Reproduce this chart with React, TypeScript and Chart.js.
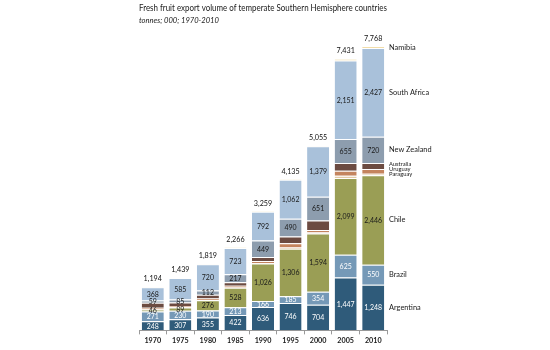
import React, { useEffect, useRef } from "react";
import { Chart, registerables } from "chart.js";

Chart.register(...registerables);

const years = ["1970", "1975", "1980", "1985", "1990", "1995", "2000", "2005", "2010"];
const argentina = [248, 307, 355, 422, 636, 746, 704, 1447, 1248];
const brazil = [271, 230, 190, 213, 166, 185, 354, 625, 550];
const chile = [46, 89, 276, 528, 1026, 1306, 1594, 2099, 2446];
const paraguay = [15, 10, 10, 12, 15, 30, 25, 60, 45];
const uruguay = [40, 30, 40, 45, 55, 120, 70, 140, 125];
const australia = [135, 95, 106, 96, 110, 180, 260, 210, 165];
const newZealand = [59, 85, 112, 217, 449, 490, 651, 655, 720];
const southAfrica = [368, 585, 720, 723, 792, 1062, 1379, 2151, 2427];
const namibia = [12, 8, 10, 10, 10, 16, 18, 44, 42];

const seriesNames = ["Argentina", "Brazil", "Chile", "Paraguay", "Uruguay", "Australia", "New Zealand", "South Africa", "Namibia"];
const seriesData = [argentina, brazil, chile, paraguay, uruguay, australia, newZealand, southAfrica, namibia];
const seriesColors = ["#2f5b7a", "#7599b7", "#9a9e55", "#e2c9a6", "#c4845e", "#6c4b41", "#8d9dae", "#a9c1da", "#ecd28e"];
const labelled = ["Argentina", "Brazil", "Chile", "New Zealand", "South Africa"];
const whiteText = ["Argentina", "Brazil"];
const smallNames = ["Paraguay", "Uruguay", "Australia"];

const FONT = "Lato, 'Open Sans', sans-serif";
const fmt = (v: number) => v.toLocaleString("en-US");

const labelPlugin = {
  id: "labels",
  afterDatasetsDraw(chart: any) {
    const ctx = chart.ctx;
    const n = chart.data.labels.length;
    ctx.save();
    ctx.textAlign = "center";
    ctx.textBaseline = "middle";
    ctx.font = `7px ${FONT}`;
    chart.data.datasets.forEach((ds: any, di: number) => {
      if (!labelled.includes(ds.label)) return;
      const meta = chart.getDatasetMeta(di);
      meta.data.forEach((bar: any, i: number) => {
        const y = (bar.y + bar.base) / 2;
        ctx.fillStyle = whiteText.includes(ds.label) ? "#ffffff" : "#1a1a1a";
        ctx.fillText(fmt(ds.data[i]), bar.x, y + 0.5);
      });
    });
    const lastMeta = chart.getDatasetMeta(chart.data.datasets.length - 1);
    ctx.font = `7.2px ${FONT}`;
    for (let i = 0; i < n; i++) {
      const total = chart.data.datasets.reduce((s: number, d: any) => s + d.data[i], 0);
      const bar = lastMeta.data[i];
      ctx.fillStyle = "#111";
      ctx.fillText(fmt(total), bar.x, bar.y - 8);
    }
    const last = n - 1;
    ctx.textAlign = "left";
    const xLab = chart.chartArea.right + 2;
    ctx.fillStyle = "#1a1a1a";
    ctx.font = `7.4px ${FONT}`;
    chart.data.datasets.forEach((ds: any, di: number) => {
      if (smallNames.includes(ds.label)) return;
      const bar = chart.getDatasetMeta(di).data[last];
      let y = (bar.y + bar.base) / 2;
      if (ds.label === "Namibia") y = bar.y + 1.5;
      ctx.fillText(ds.label, xLab, y);
    });
    const idxs = smallNames.map((nm) => chart.data.datasets.findIndex((d: any) => d.label === nm));
    const bars = idxs.map((di) => chart.getDatasetMeta(di).data[last]);
    const top = Math.min(...bars.map((b: any) => b.y));
    const bottom = Math.max(...bars.map((b: any) => b.base));
    const mid = (top + bottom) / 2;
    ctx.font = `5.8px ${FONT}`;
    ["Australia", "Uruguay", "Paraguay"].forEach((nm, k) => {
      ctx.fillText(nm, xLab, mid + (k - 1) * 4.7);
    });
    ctx.restore();
  },
};

export default function App() {
  const ref = useRef<HTMLCanvasElement | null>(null);
  useEffect(() => {
    if (!ref.current) return;
    const chart = new Chart(ref.current, {
      type: "bar",
      data: {
        labels: years,
        datasets: seriesNames.map((name, i) => ({
          label: name,
          data: seriesData[i],
          backgroundColor: seriesColors[i],
          borderColor: "#ffffff",
          borderWidth: { top: 1, bottom: 0, left: 0, right: 0 },
          borderSkipped: false,
          barPercentage: 0.8,
          categoryPercentage: 1,
        })),
      },
      options: {
        animation: false,
        responsive: false,
        layout: { padding: { left: 139, right: 163, top: 0, bottom: 3 } },
        plugins: {
          legend: { display: false },
          tooltip: { enabled: false },
          title: {
            display: true,
            text: "Fresh fruit export volume of temperate Southern Hemisphere countries",
            align: "start",
            color: "#1a1a1a",
            font: { family: FONT, size: 9.2, weight: "normal" },
            padding: { top: 2.5, bottom: 0 },
          },
          subtitle: {
            display: true,
            text: "tonnes; 000; 1970-2010",
            align: "start",
            color: "#1a1a1a",
            font: { family: FONT, size: 7.6, style: "italic" },
            padding: { top: 2, bottom: 13.4 },
          },
        },
        scales: {
          x: {
            stacked: true,
            grid: { display: true, offset: true, drawOnChartArea: false, drawTicks: true, tickLength: 4, color: "#999" },
            border: { display: true, color: "#999" },
            ticks: { color: "#1a1a1a", font: { family: FONT, size: 7.2, weight: "bold" }, padding: 2 },
          },
          y: {
            stacked: true,
            display: false,
            min: 0,
            max: 8000,
          },
        },
      },
      plugins: [labelPlugin],
    });
    return () => chart.destroy();
  }, []);
  return (
    <div style={{ position: "fixed", left: 0, top: 0, width: 550, height: 350, background: "#fff" }}>
      <canvas ref={ref} width={550} height={350} style={{ width: 550, height: 350 }} />
    </div>
  );
}
